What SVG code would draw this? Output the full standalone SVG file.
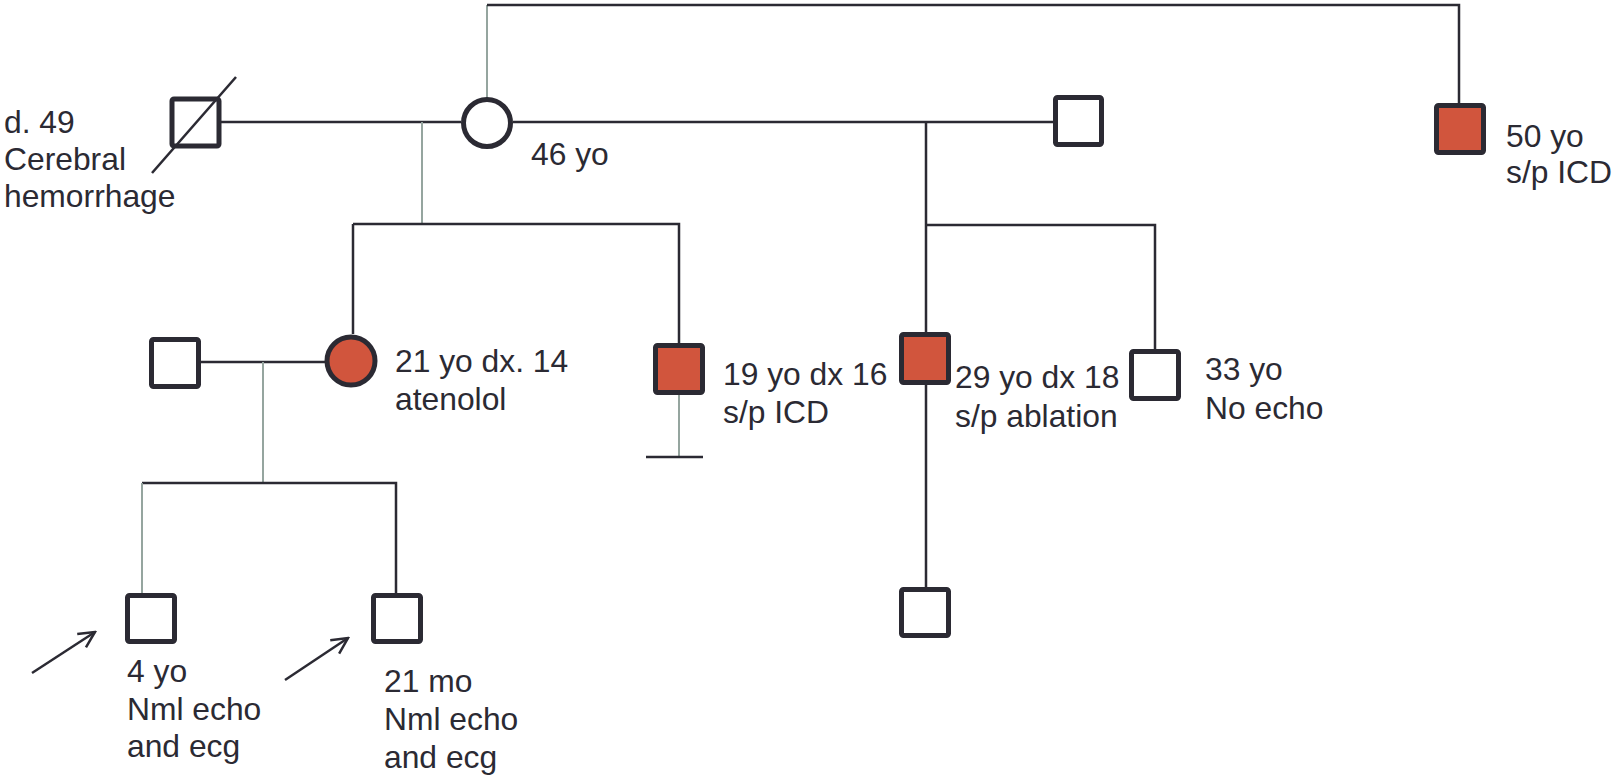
<svg xmlns="http://www.w3.org/2000/svg" width="1612" height="778" viewBox="0 0 1612 778">
<defs>
<style>
.bg{fill:#ffffff}
.sq{fill:#ffffff;stroke:#2b2a33;stroke-width:5}
.aff{fill:#d1553d;stroke:#2b2a33;stroke-width:5}
.ln{fill:none;stroke:#2b2a33;stroke-width:2.5}
.gl{fill:none;stroke:#95a59f;stroke-width:2}
.t{font-family:"Liberation Sans",Arial,sans-serif;font-size:31.8px;fill:#2b2a33}
</style>
<marker id="ah" viewBox="0 0 22 22" refX="20" refY="11" markerWidth="22" markerHeight="22" markerUnits="userSpaceOnUse" orient="auto">
<path d="M4,3 L20,11 L4,19" fill="none" stroke="#2b2a33" stroke-width="2.5"/>
</marker>
</defs>
<rect class="bg" x="0" y="0" width="1612" height="778"/>
<g id="connectors">
<path class="gl" d="M487,99 V5"/>
<path class="ln" d="M487,5 H1459 V103"/>
<path class="ln" d="M221,122 H461"/>
<path class="ln" d="M513,122 H1054"/>
<path class="gl" d="M422,122 V224"/>
<path class="ln" d="M353,224 H679 V343"/>
<path class="ln" d="M353,224 V334"/>
<path class="ln" d="M926,122 V587"/>
<path class="ln" d="M926,225 H1155 V349"/>
<path class="ln" d="M191,362 H325"/>
<path class="gl" d="M263,362 V483"/>
<path class="ln" d="M142,483 H396 V593"/>
<path class="gl" d="M142,483 V593"/>
<path class="gl" d="M679,395 V457"/>
<path class="ln" d="M646,457 H703"/>
<path class="ln" d="M32,673 L95,632" marker-end="url(#ah)"/>
<path class="ln" d="M285,680 L348,638" marker-end="url(#ah)"/>
</g>
<g id="n-grandfather">
<rect class="sq" x="172" y="99" width="47" height="47" rx="2"/>
<path class="ln" d="M152,173 L236,77"/>
<text class="t" x="4" y="133">d. 49</text>
<text class="t" x="4" y="170">Cerebral</text>
<text class="t" x="4" y="207">hemorrhage</text>
</g>
<g id="n-grandmother">
<circle class="sq" cx="487" cy="123" r="23.5"/>
<text class="t" x="531" y="165">46 yo</text>
</g>
<g id="n-grandmother-spouse2">
<rect class="sq" x="1055.5" y="97.5" width="46" height="47" rx="2"/>
</g>
<g id="n-uncle">
<rect class="aff" x="1436.5" y="105.5" width="47" height="47" rx="2"/>
<text class="t" x="1506" y="147">50 yo</text>
<text class="t" x="1506" y="183">s/p ICD</text>
</g>
<g id="n-mother">
<circle class="aff" cx="351" cy="361" r="24"/>
<text class="t" x="395" y="372">21 yo dx. 14</text>
<text class="t" x="395" y="410">atenolol</text>
</g>
<g id="n-father">
<rect class="sq" x="151.5" y="339.5" width="47" height="47" rx="2"/>
</g>
<g id="n-19yo">
<rect class="aff" x="655.5" y="345.5" width="47" height="47" rx="2"/>
<text class="t" x="723" y="385">19 yo dx 16</text>
<text class="t" x="723" y="423">s/p ICD</text>
</g>
<g id="n-29yo">
<rect class="aff" x="901.5" y="334.5" width="47" height="48" rx="2"/>
<text class="t" x="955" y="388">29 yo dx 18</text>
<text class="t" x="955" y="427">s/p ablation</text>
</g>
<g id="n-33yo">
<rect class="sq" x="1131.5" y="351.5" width="47" height="47" rx="2"/>
<text class="t" x="1205" y="380">33 yo</text>
<text class="t" x="1205" y="419">No echo</text>
</g>
<g id="n-29yo-child">
<rect class="sq" x="901.5" y="589.5" width="47" height="46" rx="2"/>
</g>
<g id="n-child1">
<rect class="sq" x="127.5" y="595.5" width="47" height="46" rx="2"/>
<text class="t" x="127" y="682">4 yo</text>
<text class="t" x="127" y="720">Nml echo</text>
<text class="t" x="127" y="757">and ecg</text>
</g>
<g id="n-child2">
<rect class="sq" x="373.5" y="595.5" width="47" height="46" rx="2"/>
<text class="t" x="384" y="692">21 mo</text>
<text class="t" x="384" y="730">Nml echo</text>
<text class="t" x="384" y="768">and ecg</text>
</g>
</svg>
